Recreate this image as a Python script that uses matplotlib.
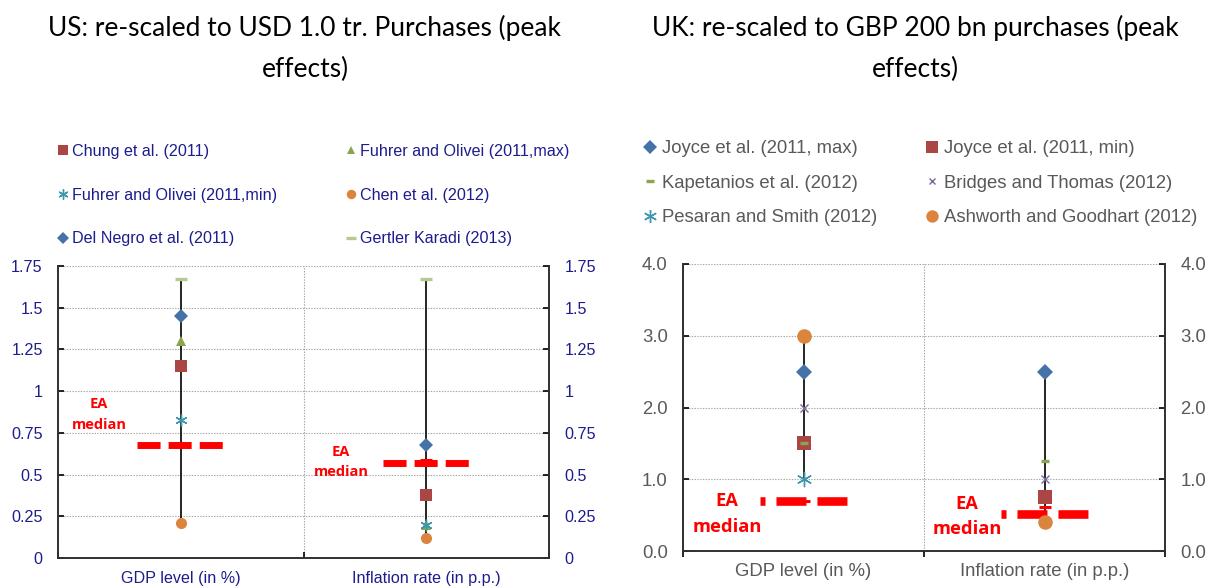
import numpy as np
import matplotlib
matplotlib.use("Agg")
import matplotlib.pyplot as plt
from matplotlib.lines import Line2D
from matplotlib.ticker import FuncFormatter, FixedLocator

plt.rcParams['lines.scale_dashes'] = False

categories = ["GDP level (in %)", "Inflation rate (in p.p.)"]

# US studies, values for [GDP level, inflation rate]
us_labels = ["Chung et al. (2011)", "Fuhrer and Olivei (2011,max)",
             "Fuhrer and Olivei (2011,min)", "Chen et al. (2012)",
             "Del Negro et al. (2011)", "Gertler Karadi (2013)"]
us_chung = [1.15, 0.38]
us_fuhrer_max = [1.30, 0.20]
us_fuhrer_min = [0.83, 0.20]
us_chen = [0.21, 0.12]
us_del_negro = [1.45, 0.68]
us_gertler = [1.67, 1.67]
us_ea_median = [0.68, 0.57]
us_median_mark = [0.68, 0.59]

# UK studies
uk_labels = ["Joyce et al. (2011, max)", "Joyce et al. (2011, min)",
             "Kapetanios et al. (2012)", "Bridges and Thomas (2012)",
             "Pesaran and Smith (2012)", "Ashworth and Goodhart (2012)"]
uk_joyce_max = [2.5, 2.5]
uk_joyce_min = [1.5, 0.75]
uk_kapetanios = [1.5, 1.25]
uk_bridges = [2.0, 1.0]
uk_pesaran = [1.0, np.nan]
uk_ashworth = [3.0, 0.40]
uk_ea_median = [0.70, 0.52]
uk_median_mark = [0.70, 0.61]

# marker styles: (marker, colour, size, edge width)
blue, red, green, teal = "#4572A7", "#AA4643", "#89A54E", "#3D96AE"
orange, purple, lgreen = "#DB843D", "#80699B", "#B5CA92"
ast = (6, 2, 0)

us_series = [us_chung, us_fuhrer_max, us_fuhrer_min, us_chen, us_del_negro, us_gertler]
us_styles = [("s", red, 8.4, 0), ("^", green, 7.5, 0), (ast, teal, 8.5, 1.0),
             ("o", orange, 8, 0), ("D", blue, 6.8, 0), ("_", lgreen, 8.6, 2.4)]
uk_series = [uk_joyce_max, uk_joyce_min, uk_kapetanios, uk_bridges, uk_pesaran, uk_ashworth]
uk_styles = [("D", blue, 8, 0), ("s", red, 10, 0), ("_", green, 6, 2.4),
             ("x", purple, 5.5, 1.0), (ast, teal, 11, 1.0), ("o", orange, 10.5, 0)]

W, H = 1210, 586
fig = plt.figure(figsize=(W / 100, H / 100), dpi=100)
x = np.arange(len(categories))

title_font = dict(family="Lato", fontsize=19, color="black", ha="center", va="center")
fig.text(305 / W, 1 - 28 / H, "US: re-scaled to USD 1.0 tr. Purchases (peak", **title_font)
fig.text(305 / W, 1 - 69 / H, "effects)", **title_font)
fig.text(915 / W, 1 - 28 / H, "UK: re-scaled to GBP 200 bn purchases (peak", **title_font)
fig.text(915 / W, 1 - 69 / H, "effects)", **title_font)


def panel(rect, series, styles, labels, median, mark, ymax, step, fmt, tcol, fs,
          half, dash, txt_pos, txt_fs, xdir, lab_pad, leg):
    ax = fig.add_axes(rect)
    ax.set_xlim(-0.5, 1.5)
    ax.set_ylim(0, ymax)
    ax.set_axisbelow(True)

    vals = np.array(series, dtype=float)
    ax.vlines(x, np.nanmin(vals, axis=0), np.nanmax(vals, axis=0), color="black", lw=1.2, zorder=2)

    for i in range(len(x)):
        ax.plot([x[i] - half, x[i] + half], [median[i], median[i]], color="#FF0000",
                lw=dash[0], linestyle=(dash[1], (dash[2], dash[3])),
                solid_capstyle="butt", dash_capstyle="butt", zorder=3)
    ax.plot(x, mark, linestyle="none", marker="_", color="#FF0000", ms=9, mew=2.2, zorder=3)

    for s, (m, c, ms, mew) in zip(series, styles):
        ax.plot(x, s, linestyle="none", marker=m, color=c, ms=ms, mew=mew, zorder=4)

    for (tx, ty) in txt_pos:
        ax.text(tx, ty, "EA\nmedian", color="#FF0000", fontweight="bold", family="Open Sans",
                fontsize=txt_fs, ha="center", va="center", linespacing=1.55)

    ax.yaxis.set_major_locator(FixedLocator(np.arange(0, ymax + step / 2, step)))
    ax.yaxis.set_major_formatter(FuncFormatter(lambda v, p: fmt.format(v)))
    ax.tick_params(axis="y", direction="in", length=4, width=1.2, left=True, right=True,
                   labelleft=True, labelright=True, labelsize=fs, labelcolor=tcol, pad=11)
    ax.set_xticks([-0.5, 0.5, 1.5])
    ax.set_xticklabels([])
    ax.set_xticks(x, minor=True)
    ax.set_xticklabels(categories, minor=True)
    ax.tick_params(axis="x", which="major", direction=xdir, length=4, width=1.2)
    ax.tick_params(axis="x", which="minor", length=0, labelsize=fs, labelcolor=tcol, pad=lab_pad)
    for lab in ax.get_xticklabels(minor=True) + ax.get_yticklabels():
        lab.set_family("Liberation Sans")

    ax.grid(True, which="major", linestyle=(0, (1, 1)), color="#A6A6A6", lw=0.8)
    ax.spines["top"].set_visible(False)
    for sp in ("left", "right", "bottom"):
        ax.spines[sp].set_color("#303030")
        ax.spines[sp].set_linewidth(1.4)

    # legend, two columns filled row by row
    handles = []
    for (m, c, ms, mew) in styles:
        lms = ms * 0.85 if m != "_" else ms * 0.85
        handles.append(Line2D([], [], linestyle="none", marker=m, color=c, ms=lms, mew=mew))
    (x1, x2, ytop, lsp, hpad) = leg
    for col, xa in enumerate((x1, x2)):
        idx = [col, col + 2, col + 4]
        lg = fig.legend([handles[k] for k in idx], [labels[k] for k in idx],
                        loc="upper left", bbox_to_anchor=(xa / W, 1 - ytop / H),
                        frameon=False, borderpad=0,
                        borderaxespad=0, handlelength=0.6, handletextpad=hpad,
                        labelspacing=lsp, prop=dict(family="Liberation Sans", size=fs))
        for t in lg.get_texts():
            t.set_color(tcol)
    return ax


panel([58 / W, 1 - 558 / H, (549 - 58) / W, (558 - 266) / H],
      us_series, us_styles, us_labels, us_ea_median, us_median_mark,
      1.75, 0.25, "{:g}", "#1C1C8E", 11.6,
      0.177, (5.0, 0, 16.6, 5.8), [(-0.333, 0.86), (0.653, 0.575)], 10.5, "in", 9,
      (58, 346, 144, 1.78, 0.25))

panel([683 / W, 1 - 551 / H, (1165 - 683) / W, (551 - 264) / H],
      uk_series, uk_styles, uk_labels, uk_ea_median, uk_median_mark,
      4.0, 1.0, "{:.1f}", "#595959", 13.3,
      0.18, (6.2, 18, 21.6, 7.9), [(-0.317, 0.516), (0.678, 0.48)], 13.2, "out", 8.5,
      (644, 926, 140, 0.96, 0.35))

fig.savefig("out.png", dpi=100)
